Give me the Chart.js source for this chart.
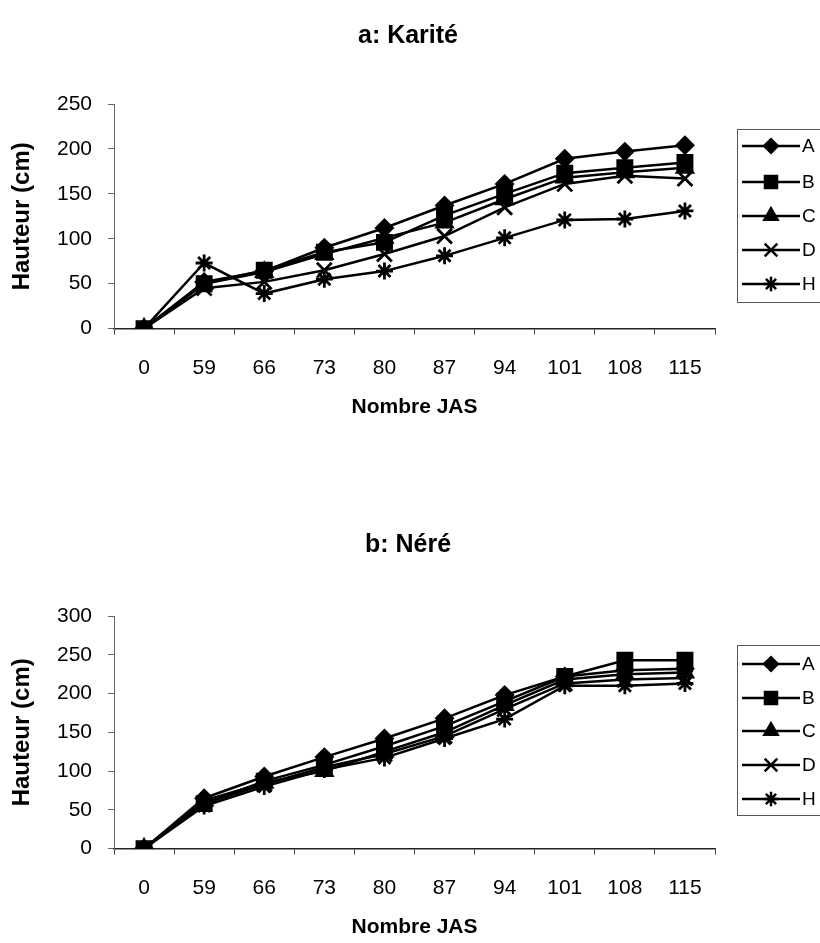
<!DOCTYPE html>
<html><head><meta charset="utf-8">
<script src="https://cdn.jsdelivr.net/npm/chart.js@4/dist/chart.umd.min.js"></script>
<style>
html,body{margin:0;padding:0;background:#fff;}
#wrap{position:relative;width:820px;height:943px;overflow:hidden;}
canvas{position:absolute;left:0;}
</style></head><body>
<div id="wrap">
<canvas id="c1" width="820" height="470" style="top:0;width:820px;height:470px"></canvas>
<canvas id="c2" width="820" height="473" style="top:470px;width:820px;height:473px"></canvas>
</div>
<script>
const categories = ['0','59','66','73','80','87','94','101','108','115'];
const seriesNames = ['A','B','C','D','H'];
const karA = [0,52,64,90,112,137,161,189,197,204];
const karB = [0,50,65,85,96,126,150,173,179,185];
const karC = [0,50,63,83,101,118,144,168,174,179];
const karD = [0,45,52,65,83,103,135,161,170,167];
const karH = [0,73,39,55,64,81,101,121,122,131];
const nerA = [0,65,93,118,142,168,198,222,230,232];
const nerB = [0,58,87,108,132,158,190,222,243,243];
const nerC = [0,62,85,100,125,150,185,218,225,227];
const nerD = [0,58,83,105,122,145,180,213,218,220];
const nerH = [0,55,80,102,117,142,167,210,210,213];
const karTicks = [0,50,100,150,200,250];
const nerTicks = [0,50,100,150,200,250,300];

const FONT = "'Liberation Sans', Arial, sans-serif";
const styles = [
  {pointStyle:'rectRot', radius:8},
  {pointStyle:'rect', radius:10},
  {pointStyle:'triangle', radius:9},
  {pointStyle:'crossRot', radius:10.5},
  {pointStyle:'star', radius:8.5}
];

function makeDatasets(arrs){
  return arrs.map((d,i)=>({
    label: seriesNames[i], data: d,
    borderColor:'#000', backgroundColor:'#000', borderWidth:2.5,
    pointStyle: styles[i].pointStyle, pointRadius: styles[i].radius, pointHoverRadius: styles[i].radius,
    pointBorderWidth: 2.8, pointBackgroundColor:'#000', pointBorderColor:'#000', tension:0
  }));
}

function titleLegendPlugin(title, titleY, legendTop, legendYs, legendBottom){
  return {
    id:'tl',
    afterDraw(chart){
      const ctx = chart.ctx;
      ctx.save();
      ctx.fillStyle = '#000';
      ctx.font = "bold 25px " + FONT;
      ctx.textAlign = 'center'; ctx.textBaseline = 'middle';
      ctx.fillText(title, 408, titleY);
      ctx.strokeStyle = '#555'; ctx.lineWidth = 1;
      ctx.strokeRect(737.5, legendTop + 0.5, 100, legendBottom - legendTop);
      ctx.font = "19px " + FONT;
      ctx.textAlign = 'left';
      legendYs.forEach((y,i)=>{
        ctx.strokeStyle = '#000'; ctx.lineWidth = 2.5;
        ctx.beginPath(); ctx.moveTo(742, y); ctx.lineTo(800, y); ctx.stroke();
        ctx.fillStyle = '#000';
        const s = styles[i];
        const h = Chart.helpers;
        if (h && h.drawPoint) {
          h.drawPoint(ctx, {pointStyle:s.pointStyle, radius:s.radius*0.85, borderWidth:2.5, rotation:0}, 771, y);
        }
        ctx.fillStyle = '#000';
        ctx.fillText(seriesNames[i], 802, y + 1);
      });
      ctx.restore();
    }
  };
}

function makeChart(id, arrs, ticks, yMax, padTop, padBottom, plugin){
  return new Chart(document.getElementById(id), {
    type:'line',
    data:{ labels: categories, datasets: makeDatasets(arrs) },
    plugins:[plugin],
    options:{
      responsive:false, animation:false, maintainAspectRatio:false,
      layout:{ padding:{ left:8, right:105, top:padTop, bottom:padBottom } },
      plugins:{ legend:{display:false}, tooltip:{enabled:false}, title:{display:false} },
      scales:{
        x:{
          offset:true,
          grid:{ offset:true, drawOnChartArea:false, tickLength:6, color:'#444', lineWidth:1 },
          border:{ display:true, color:'#222', width:1.5 },
          ticks:{ color:'#000', font:{family:FONT, size:21}, padding:21, maxRotation:0, autoSkip:false },
          title:{ display:true, text:'Nombre JAS', color:'#000', font:{family:FONT, size:21, weight:'bold'}, padding:{top:-7,bottom:0} }
        },
        y:{
          min:0, max:yMax,
          afterBuildTicks(scale){ scale.ticks = ticks.map(v=>({value:v})); },
          afterFit(scale){ scale.width = 106; },
          grid:{ drawOnChartArea:false, tickLength:6, color:'#666', lineWidth:1 },
          border:{ display:true, color:'#666', width:1 },
          ticks:{ color:'#000', font:{family:FONT, size:21}, padding:16 },
          title:{ display:true, text:'Hauteur (cm)', color:'#000', font:{family:FONT, size:24, weight:'bold'}, padding:{top:0,bottom:0} }
        }
      }
    }
  });
}

const ch1 = makeChart('c1', [karA,karB,karC,karD,karH], karTicks, 250, 104, 50,
  titleLegendPlugin('a: Karité', 36, 129, [146,182,216,250,284], 302));
const ch2 = makeChart('c2', [nerA,nerB,nerC,nerD,nerH], nerTicks, 300, 146, 3,
  titleLegendPlugin('b: Néré', 75, 175, [194,228,261,295,329], 345));
</script>
</body></html>
